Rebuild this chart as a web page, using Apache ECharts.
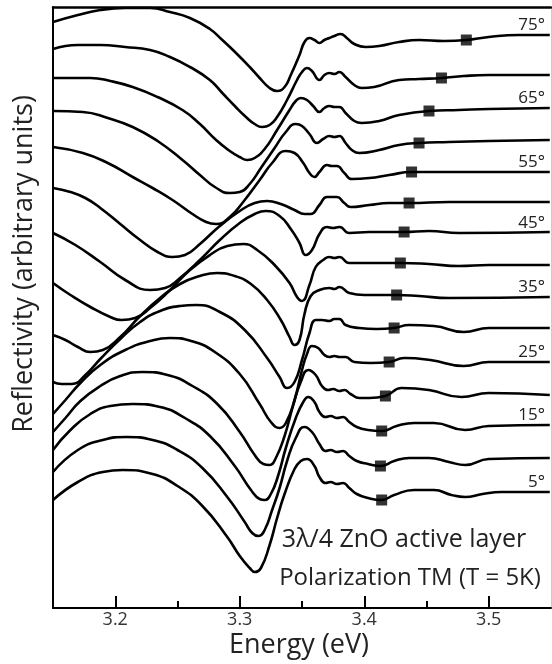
<!DOCTYPE html>
<html>
<head>
<meta charset="utf-8">
<script src="https://cdn.jsdelivr.net/npm/echarts@6/dist/echarts.min.js"></script>
<style>
  html, body { margin: 0; padding: 0; background: #fff; }
  #chart { width: 552px; height: 664px; }
</style>
</head>
<body>
<div id="chart"></div>
<script>
// angles of incidence (deg), one reflectivity curve each, stacked bottom to top
var angles = [5, 10, 15, 20, 25, 30, 35, 40, 45, 50, 55, 60, 65, 70, 75];

// [energy eV, reflectivity a.u. (with offset)]
var r05 = [[3.150,1.08],[3.170,1.26],[3.190,1.36],[3.206,1.38],[3.230,1.34],[3.250,1.22],[3.270,1.02],[3.290,0.71],[3.300,0.52],[3.308,0.40],[3.312,0.36],[3.317,0.40],[3.324,0.63],[3.330,0.90],[3.336,1.14],[3.344,1.39],[3.349,1.47],[3.354,1.49],[3.360,1.42],[3.364,1.31],[3.369,1.25],[3.373,1.26],[3.378,1.24],[3.383,1.25],[3.388,1.20],[3.394,1.14],[3.403,1.10],[3.414,1.08],[3.424,1.13],[3.440,1.18],[3.456,1.18],[3.470,1.13],[3.481,1.11],[3.495,1.14],[3.510,1.16],[3.549,1.16]];
var r10 = [[3.150,1.36],[3.170,1.58],[3.190,1.68],[3.209,1.71],[3.230,1.68],[3.250,1.58],[3.270,1.40],[3.290,1.11],[3.304,0.86],[3.310,0.75],[3.315,0.72],[3.320,0.78],[3.326,0.98],[3.332,1.20],[3.338,1.47],[3.345,1.70],[3.352,1.81],[3.358,1.76],[3.364,1.64],[3.369,1.57],[3.373,1.58],[3.378,1.56],[3.383,1.57],[3.388,1.52],[3.394,1.47],[3.403,1.44],[3.413,1.42],[3.424,1.47],[3.436,1.50],[3.452,1.50],[3.468,1.46],[3.481,1.43],[3.500,1.49],[3.549,1.50]];
var r15 = [[3.150,1.58],[3.164,1.78],[3.180,1.94],[3.196,2.02],[3.214,2.04],[3.236,2.01],[3.256,1.90],[3.276,1.72],[3.296,1.42],[3.309,1.18],[3.316,1.09],[3.320,1.08],[3.325,1.14],[3.331,1.33],[3.337,1.60],[3.345,1.90],[3.351,2.06],[3.355,2.11],[3.360,2.06],[3.364,1.96],[3.369,1.91],[3.373,1.92],[3.378,1.90],[3.383,1.91],[3.388,1.86],[3.394,1.81],[3.403,1.78],[3.414,1.77],[3.426,1.82],[3.440,1.85],[3.456,1.85],[3.481,1.78],[3.500,1.82],[3.549,1.83]];
var r20 = [[3.150,1.76],[3.160,1.90],[3.172,2.07],[3.188,2.22],[3.204,2.32],[3.222,2.36],[3.242,2.33],[3.262,2.22],[3.282,2.04],[3.300,1.76],[3.312,1.53],[3.319,1.44],[3.324,1.43],[3.329,1.50],[3.336,1.72],[3.343,2.03],[3.349,2.26],[3.355,2.38],[3.361,2.33],[3.366,2.22],[3.371,2.18],[3.375,2.19],[3.380,2.17],[3.384,2.18],[3.389,2.14],[3.396,2.10],[3.404,2.10],[3.417,2.12],[3.430,2.20],[3.452,2.18],[3.478,2.11],[3.500,2.15],[3.549,2.13]];
var r25 = [[3.150,1.94],[3.160,2.08],[3.172,2.25],[3.188,2.43],[3.208,2.58],[3.228,2.67],[3.244,2.70],[3.261,2.67],[3.280,2.56],[3.300,2.34],[3.316,2.04],[3.325,1.86],[3.332,1.80],[3.337,1.85],[3.344,2.08],[3.350,2.38],[3.354,2.54],[3.358,2.62],[3.363,2.60],[3.368,2.53],[3.372,2.51],[3.376,2.52],[3.380,2.51],[3.385,2.51],[3.392,2.46],[3.405,2.45],[3.420,2.46],[3.432,2.50],[3.453,2.48],[3.480,2.42],[3.500,2.46],[3.549,2.46]];
var r30 = [[3.150,2.26],[3.157,2.24],[3.165,2.24],[3.176,2.33],[3.188,2.49],[3.204,2.69],[3.220,2.86],[3.236,2.97],[3.252,3.02],[3.265,3.03],[3.284,2.96],[3.304,2.78],[3.322,2.50],[3.332,2.31],[3.338,2.20],[3.344,2.26],[3.350,2.48],[3.356,2.75],[3.361,2.88],[3.366,2.88],[3.372,2.87],[3.376,2.89],[3.380,2.89],[3.385,2.83],[3.396,2.80],[3.410,2.79],[3.424,2.80],[3.436,2.83],[3.456,2.82],[3.480,2.76],[3.500,2.80],[3.549,2.80]];
var r35 = [[3.150,2.73],[3.160,2.68],[3.170,2.61],[3.180,2.56],[3.190,2.58],[3.204,2.71],[3.220,2.92],[3.236,3.10],[3.252,3.24],[3.268,3.32],[3.282,3.35],[3.296,3.32],[3.309,3.24],[3.322,3.08],[3.333,2.88],[3.340,2.71],[3.344,2.63],[3.348,2.68],[3.352,2.94],[3.357,3.12],[3.364,3.18],[3.372,3.20],[3.376,3.19],[3.380,3.21],[3.388,3.15],[3.400,3.13],[3.412,3.13],[3.426,3.13],[3.444,3.12],[3.468,3.10],[3.549,3.11]];
var r40 = [[3.150,3.25],[3.164,3.13],[3.180,3.01],[3.196,2.91],[3.205,2.88],[3.216,2.90],[3.228,3.00],[3.244,3.18],[3.260,3.38],[3.276,3.53],[3.290,3.62],[3.303,3.64],[3.314,3.58],[3.328,3.43],[3.340,3.25],[3.346,3.11],[3.350,3.07],[3.356,3.23],[3.361,3.41],[3.367,3.48],[3.372,3.51],[3.376,3.50],[3.380,3.51],[3.388,3.45],[3.404,3.45],[3.429,3.45],[3.452,3.44],[3.476,3.42],[3.500,3.43],[3.549,3.43]];
var r45 = [[3.150,3.75],[3.168,3.63],[3.188,3.46],[3.208,3.28],[3.228,3.18],[3.240,3.20],[3.252,3.30],[3.268,3.48],[3.284,3.68],[3.300,3.85],[3.312,3.94],[3.321,3.97],[3.332,3.92],[3.341,3.79],[3.348,3.65],[3.353,3.53],[3.358,3.58],[3.364,3.74],[3.370,3.81],[3.375,3.80],[3.380,3.81],[3.388,3.75],[3.404,3.76],[3.432,3.76],[3.452,3.77],[3.476,3.75],[3.549,3.76]];
var r50 = [[3.150,4.20],[3.164,4.16],[3.176,4.10],[3.188,4.00],[3.204,3.84],[3.220,3.68],[3.234,3.56],[3.246,3.51],[3.256,3.53],[3.268,3.64],[3.284,3.82],[3.300,3.97],[3.312,4.05],[3.322,4.07],[3.333,4.04],[3.344,3.98],[3.352,3.94],[3.357,3.94],[3.364,4.03],[3.370,4.11],[3.378,4.11],[3.384,4.05],[3.389,4.01],[3.404,4.03],[3.420,4.05],[3.436,4.05],[3.468,4.06],[3.549,4.06]];
var r55 = [[3.150,4.61],[3.174,4.55],[3.194,4.45],[3.214,4.31],[3.230,4.20],[3.246,4.08],[3.262,3.94],[3.273,3.86],[3.281,3.84],[3.292,3.91],[3.304,4.08],[3.316,4.28],[3.326,4.45],[3.337,4.57],[3.344,4.55],[3.351,4.45],[3.356,4.35],[3.360,4.31],[3.364,4.36],[3.370,4.43],[3.374,4.42],[3.378,4.42],[3.384,4.35],[3.390,4.29],[3.404,4.30],[3.420,4.33],[3.438,4.36],[3.468,4.36],[3.549,4.36]];
var r60 = [[3.150,4.97],[3.174,4.96],[3.194,4.90],[3.214,4.81],[3.234,4.67],[3.254,4.48],[3.268,4.33],[3.280,4.21],[3.292,4.15],[3.300,4.16],[3.308,4.24],[3.317,4.40],[3.328,4.60],[3.337,4.76],[3.345,4.84],[3.350,4.82],[3.356,4.74],[3.362,4.65],[3.367,4.69],[3.372,4.72],[3.376,4.71],[3.380,4.72],[3.385,4.65],[3.390,4.58],[3.396,4.55],[3.412,4.58],[3.428,4.63],[3.444,4.65],[3.468,4.66],[3.500,4.67],[3.549,4.68]];
var r65 = [[3.150,5.30],[3.180,5.30],[3.196,5.27],[3.214,5.21],[3.234,5.11],[3.254,4.98],[3.268,4.84],[3.281,4.68],[3.292,4.57],[3.300,4.51],[3.306,4.48],[3.312,4.50],[3.320,4.59],[3.330,4.78],[3.340,4.98],[3.345,5.07],[3.349,5.10],[3.354,5.08],[3.359,5.02],[3.364,4.96],[3.368,5.00],[3.372,5.02],[3.376,5.01],[3.380,5.01],[3.385,4.95],[3.392,4.87],[3.398,4.85],[3.412,4.87],[3.428,4.93],[3.452,4.97],[3.476,4.98],[3.500,4.99],[3.549,5.00]];
var r70 = [[3.150,5.59],[3.170,5.63],[3.188,5.63],[3.208,5.61],[3.228,5.58],[3.244,5.51],[3.260,5.41],[3.276,5.28],[3.286,5.15],[3.296,5.02],[3.305,4.91],[3.312,4.84],[3.318,4.81],[3.324,4.83],[3.330,4.91],[3.338,5.08],[3.346,5.28],[3.350,5.36],[3.354,5.40],[3.358,5.37],[3.364,5.28],[3.368,5.33],[3.372,5.35],[3.376,5.34],[3.380,5.36],[3.385,5.31],[3.392,5.23],[3.398,5.20],[3.408,5.21],[3.428,5.28],[3.444,5.29],[3.462,5.30],[3.480,5.32],[3.500,5.33],[3.549,5.33]];
var r75 = [[3.150,5.86],[3.170,5.93],[3.188,5.98],[3.208,6.00],[3.228,6.00],[3.244,5.96],[3.260,5.90],[3.276,5.79],[3.286,5.68],[3.297,5.55],[3.308,5.41],[3.316,5.30],[3.324,5.20],[3.330,5.17],[3.336,5.21],[3.341,5.33],[3.348,5.53],[3.352,5.66],[3.356,5.70],[3.360,5.68],[3.364,5.65],[3.368,5.68],[3.372,5.70],[3.376,5.72],[3.381,5.74],[3.386,5.70],[3.392,5.64],[3.401,5.61],[3.412,5.62],[3.428,5.66],[3.444,5.68],[3.464,5.67],[3.482,5.68],[3.500,5.71],[3.524,5.73],[3.549,5.73]];

var curves = [r05, r10, r15, r20, r25, r30, r35, r40, r45, r50, r55, r60, r65, r70, r75];

// black squares marked on each curve
var markerE = [3.414, 3.413, 3.414, 3.417, 3.420, 3.424, 3.426, 3.429, 3.432, 3.436, 3.438, 3.444, 3.452, 3.462, 3.482];
var markerR = [1.08, 1.42, 1.77, 2.12, 2.46, 2.80, 3.13, 3.45, 3.76, 4.05, 4.36, 4.65, 4.97, 5.30, 5.68];

var xTicks = [3.2, 3.3, 3.4, 3.5];
var xMinorTicks = [3.25, 3.35, 3.45];

var chart = echarts.init(document.getElementById('chart'), null, { renderer: 'canvas' });
var FONT = '"Open Sans", "Noto Sans", sans-serif';

var series = [];
curves.forEach(function (c, i) {
  series.push({
    name: angles[i] + '°',
    type: 'line',
    data: c,
    smooth: 0.5,
    showSymbol: false,
    silent: true,
    lineStyle: { color: '#000', width: 2.6 }
  });
});
series.push({
  type: 'scatter',
  data: markerE.map(function (e, i) { return [e, markerR[i]]; }),
  symbol: 'rect',
  symbolSize: 11,
  itemStyle: { color: '#000' },
  z: 5
});

// angle labels on the right, every 10 degrees
var labelTexts = ['75°', '65°', '55°', '45°', '35°', '25°', '15°', '5°'];
var labelY = [25, 98, 162, 223, 287, 352, 415, 482];
var graphics = labelTexts.map(function (t, i) {
  return {
    type: 'text', x: 545, y: labelY[i],
    style: { text: t, fill: '#222', font: '17px ' + FONT, align: 'right', verticalAlign: 'middle' }
  };
});
graphics.push({
  type: 'text', x: 404, y: 540,
  style: { text: '3λ/4 ZnO active layer', fill: '#222', font: '25px ' + FONT, align: 'center', verticalAlign: 'middle' }
});
graphics.push({
  type: 'text', x: 410, y: 578,
  style: { text: 'Polarization TM (T = 5K)', fill: '#222', font: '24px ' + FONT, align: 'center', verticalAlign: 'middle' }
});
// axis titles
graphics.push({
  type: 'text', x: 299, y: 645,
  style: { text: 'Energy (eV)', fill: '#222', font: '27px ' + FONT, align: 'center', verticalAlign: 'middle' }
});
graphics.push({
  type: 'text', x: 24, y: 264, rotation: Math.PI / 2,
  style: { text: 'Reflectivity (arbitrary units)', fill: '#222', font: '27px ' + FONT, align: 'center', verticalAlign: 'middle' }
});

chart.setOption({
  animation: false,
  backgroundColor: '#fff',
  grid: { left: 53, right: 1, top: 7, bottom: 56 },
  xAxis: [
    {
      type: 'value', min: 3.15, max: 3.55, position: 'bottom',
      axisLine: { lineStyle: { color: '#000', width: 2 } },
      axisTick: { inside: true, length: 12, lineStyle: { color: '#000', width: 2 }, customValues: xTicks },
      axisLabel: { customValues: xTicks, fontSize: 18, color: '#333', margin: 3, fontFamily: FONT,
        formatter: function (v) { return v.toFixed(1); } },
      splitLine: { show: false }
    },
    {
      type: 'value', min: 3.15, max: 3.55, position: 'bottom',
      axisLine: { show: false },
      axisTick: { inside: true, length: 7, lineStyle: { color: '#000', width: 2 }, customValues: xMinorTicks },
      axisLabel: { show: false },
      splitLine: { show: false }
    },
    {
      type: 'value', min: 3.15, max: 3.55, position: 'top',
      axisLine: { lineStyle: { color: '#000', width: 2.5 } },
      axisTick: { show: false }, axisLabel: { show: false }, splitLine: { show: false }
    }
  ],
  yAxis: [
    {
      type: 'value', min: 0, max: 6.01, position: 'left',
      axisLine: { show: true, lineStyle: { color: '#000', width: 2 } },
      axisTick: { show: false }, axisLabel: { show: false }, splitLine: { show: false }
    },
    {
      type: 'value', min: 0, max: 6.01, position: 'right',
      axisLine: { show: true, lineStyle: { color: '#ccc', width: 1 } },
      axisTick: { show: false }, axisLabel: { show: false }, splitLine: { show: false }
    }
  ],
  graphic: graphics,
  series: series
});
</script>
</body>
</html>
